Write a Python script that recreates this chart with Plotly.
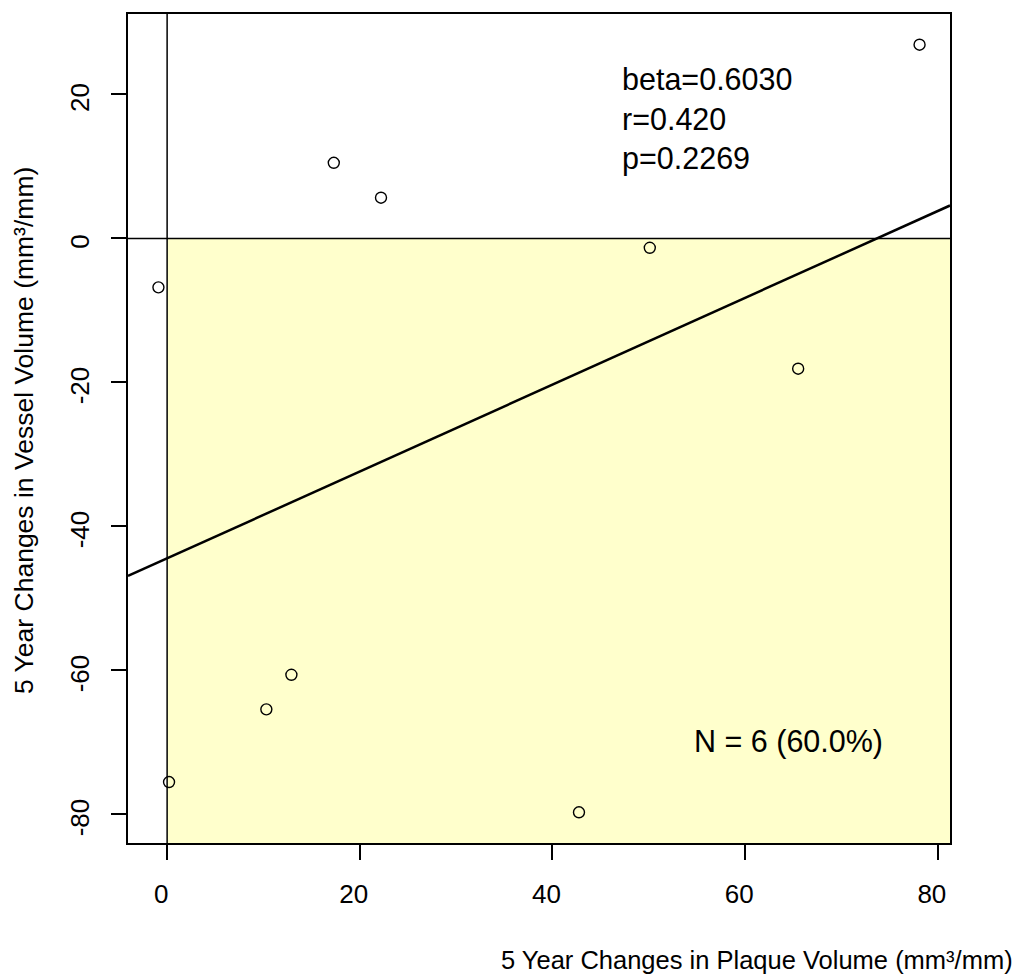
import numpy as np
import plotly.graph_objects as go

# Five-year changes per subject
plaque_change = [-0.9, 0.2, 10.3, 12.9, 17.3, 22.2, 42.75, 50.1, 65.5, 78.1]
vessel_change = [-6.8, -75.5, -65.4, -60.6, 10.5, 5.65, -79.7, -1.3, -18.1, 26.9]

x_ticks = [0, 20, 40, 60, 80]
y_ticks = [-80, -60, -40, -20, 0, 20]
x_tick_text = ["0", "20", "40", "60", "80"]
y_tick_text = ["-80", "-60", "-40", "-20", "0", "20"]

BETA = 0.6030
R_VALUE = 0.420
P_VALUE = 0.2269

px = np.array(plaque_change)
py = np.array(vessel_change)

# R-style 4% padding around the data extent
def padded(v):
    lo, hi = float(v.min()), float(v.max())
    d = (hi - lo) * 0.04
    return [lo - d, hi + d]

x_range = padded(px)
y_range = padded(py)

intercept = py.mean() - BETA * px.mean()

# count of subjects in the quadrant plaque up / vessel down
in_quad = int(np.sum((px > 0) & (py < 0)))
pct = 100.0 * in_quad / len(px)

FONT = "Liberation Sans, Arial, sans-serif"
W, H = 1017, 979
ML, MR, MT, MB = 128, 67, 14, 136
PW, PH = W - ML - MR, H - MT - MB


def paper_x(pix):
    return (pix - ML) / PW


def paper_y(pix):
    return (H - MB - pix) / PH


fig = go.Figure()

# highlighted quadrant
fig.add_shape(type="rect", xref="x", yref="y",
              x0=0, x1=x_range[1], y0=y_range[0], y1=0,
              fillcolor="#FFFFCC", line=dict(width=0), layer="below")

# reference lines at zero
fig.add_shape(type="line", xref="x", yref="paper", x0=0, x1=0, y0=0, y1=1,
              line=dict(color="black", width=1.5))
fig.add_shape(type="line", xref="paper", yref="y", x0=0, x1=1, y0=0, y1=0,
              line=dict(color="black", width=1.5))

# fitted regression line across the full axis
fx = np.array(x_range)
fig.add_trace(go.Scatter(x=fx, y=intercept + BETA * fx, mode="lines",
                         line=dict(color="black", width=2.5),
                         hoverinfo="skip", showlegend=False))

fig.add_trace(go.Scatter(x=plaque_change, y=vessel_change, mode="markers",
                         marker=dict(symbol="circle-open", size=11,
                                     color="black", line=dict(width=1.4)),
                         showlegend=False))

stats_text = f"beta={BETA:.4f}<br>r={R_VALUE:.3f}<br>p={P_VALUE:.4f}"
fig.add_annotation(x=47.0, y=24.8, xref="x", yref="y", text=stats_text,
                   showarrow=False, xanchor="left", yanchor="top", align="left",
                   font=dict(family=FONT, size=30.5, color="black"))

fig.add_annotation(x=54.45, y=-69.8, xref="x", yref="y",
                   text=f"N = {in_quad} ({pct:.1f}%)",
                   showarrow=False, xanchor="left", yanchor="middle",
                   font=dict(family=FONT, size=30.5, color="black"))

# axis titles
fig.add_annotation(x=paper_x(757), y=paper_y(960), xref="paper", yref="paper",
                   text="5 Year Changes in Plaque Volume (mm³/mm)",
                   showarrow=False, xanchor="center", yanchor="middle",
                   font=dict(family=FONT, size=25.5, color="black"))
fig.add_annotation(x=paper_x(24), y=paper_y(431), xref="paper", yref="paper",
                   text="5 Year Changes in Vessel Volume (mm³/mm)",
                   textangle=-90, showarrow=False,
                   xanchor="center", yanchor="middle",
                   font=dict(family=FONT, size=26.5, color="black"))

axis_common = dict(showgrid=False, zeroline=False, showline=True, mirror=True,
                   linecolor="black", linewidth=1.5, ticks="outside",
                   ticklen=15, tickwidth=1.5, tickcolor="black",
                   tickfont=dict(family=FONT, size=26, color="black"))

fig.update_xaxes(range=x_range, tickvals=x_ticks, ticktext=x_tick_text,
                 ticklabelstandoff=12, ticklabelshift=-6, **axis_common)
fig.update_yaxes(range=y_range, tickvals=y_ticks, ticktext=y_tick_text,
                 tickangle=-90, ticklabelstandoff=12, ticklabelshift=7,
                 **axis_common)

fig.update_layout(width=W, height=H,
                  margin=dict(l=ML, r=MR, t=MT, b=MB),
                  plot_bgcolor="white", paper_bgcolor="white",
                  font=dict(family=FONT, color="black"))

fig.write_html("out.html")
